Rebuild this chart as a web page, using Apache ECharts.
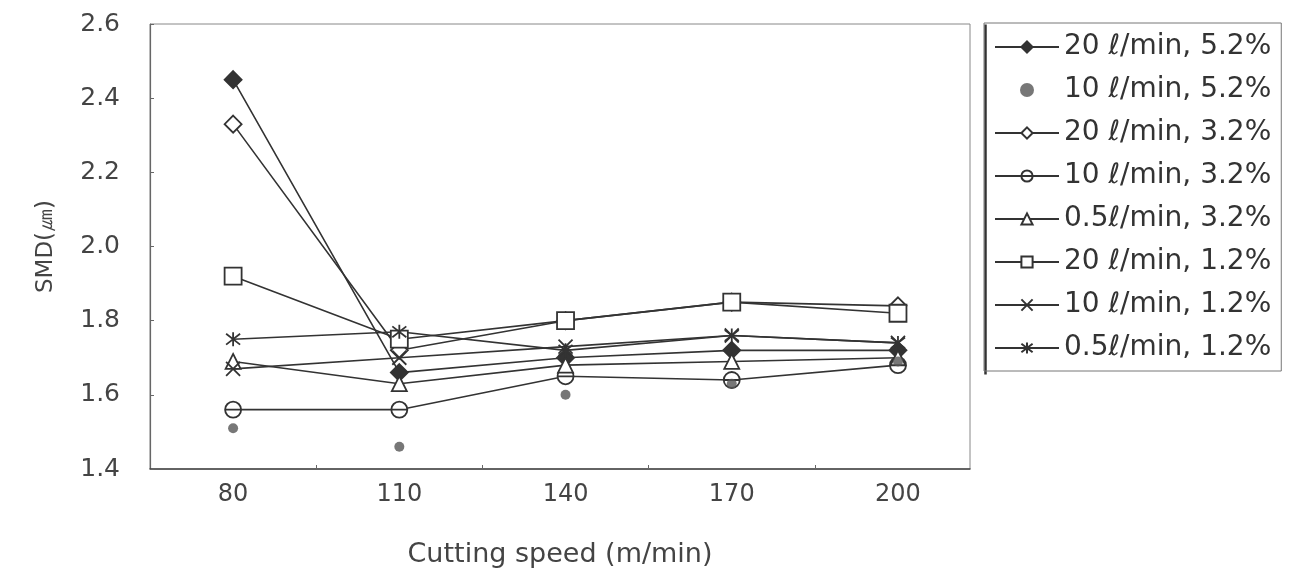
<!DOCTYPE html>
<html>
<head>
<meta charset="utf-8">
<script src="https://cdn.jsdelivr.net/npm/echarts@6/dist/echarts.min.js"></script>
<style>
  html, body { margin: 0; padding: 0; background: #fff; }
  #chart { width: 1303px; height: 584px; }
</style>
</head>
<body>
<div id="chart"></div>
<script>
// Cutting speed (m/min) on the x axis
const speeds = [80, 110, 140, 170, 200];
const speedLabels = ['80', '110', '140', '170', '200'];

// SMD (µm) per flow rate / concentration
const smd20_52 = [2.45, 1.66, 1.70, 1.72, 1.72];
const smd10_52 = [1.51, 1.46, 1.60, 1.63, 1.69];
const smd20_32 = [2.33, 1.72, 1.80, 1.85, 1.84];
const smd10_32 = [1.56, 1.56, 1.65, 1.64, 1.68];
const smd05_32 = [1.69, 1.63, 1.68, 1.69, 1.70];
const smd20_12 = [1.92, 1.75, 1.80, 1.85, 1.82];
const smd10_12 = [1.67, 1.70, 1.73, 1.76, 1.74];
const smd05_12 = [1.75, 1.77, 1.72, 1.76, 1.74];

const seriesNames = [
  '20 ℓ/min, 5.2%',
  '10 ℓ/min, 5.2%',
  '20 ℓ/min, 3.2%',
  '10 ℓ/min, 3.2%',
  '0.5ℓ/min, 3.2%',
  '20 ℓ/min, 1.2%',
  '10 ℓ/min, 1.2%',
  '0.5ℓ/min, 1.2%'
];

const yTicks = [1.4, 1.6, 1.8, 2.0, 2.2, 2.4, 2.6];

const ink = '#333';
const font = 'DejaVu Sans, Liberation Sans, sans-serif';

const pts = vals => speeds.map((s, i) => [s, vals[i]]);

// marker shapes
const symCircleBar = 'path://M0,5A5,5,0,1,1,10,5A5,5,0,1,1,0,5ZM0,5L10,5';
const symCross = 'path://M0,0L10,10M10,0L0,10';
const symAsterisk = 'path://M0,0L10,10M10,0L0,10M5,-1.5L5,11.5';

function lineSeries(name, vals, symbol, size, filled) {
  return {
    name, type: 'line', data: pts(vals),
    symbol, symbolSize: size, showSymbol: true,
    lineStyle: { color: ink, width: 1.6 },
    itemStyle: { color: filled ? ink : '#fff', borderColor: ink, borderWidth: 1.8 },
    emphasis: { disabled: true },
    z: 3
  };
}

const series = [
  lineSeries(seriesNames[0], smd20_52, 'diamond', 17, true),
  {
    name: seriesNames[1], type: 'scatter', data: pts(smd10_52),
    symbol: 'circle', symbolSize: 10,
    itemStyle: { color: '#555' },
    emphasis: { disabled: true }, z: 4
  },
  lineSeries(seriesNames[2], smd20_32, 'diamond', 17, false),
  lineSeries(seriesNames[3], smd10_32, symCircleBar, 16, false),
  lineSeries(seriesNames[4], smd05_32, 'triangle', 15, false),
  lineSeries(seriesNames[5], smd20_12, 'rect', 17, false),
  lineSeries(seriesNames[6], smd10_12, symCross, 14, false),
  lineSeries(seriesNames[7], smd05_12, symAsterisk, 14, false)
];

const chart = echarts.init(document.getElementById('chart'), null, { renderer: 'canvas' });
chart.setOption({
  animation: false,
  backgroundColor: '#fff',
  textStyle: { fontFamily: font },
  grid: {
    left: 150, right: 333, top: 24, bottom: 115,
    show: true, borderColor: '#888', borderWidth: 1
  },
  xAxis: {
    type: 'value', min: 65, max: 213,
    name: 'Cutting speed (m/min)', nameLocation: 'middle', nameGap: 72,
    nameTextStyle: { fontSize: 27, color: '#444', fontFamily: font },
    axisLine: { show: true, lineStyle: { color: '#444', width: 1.5 } },
    axisTick: { show: true, inside: true, length: 4, customValues: [95, 125, 155, 185], lineStyle: { color: '#666' } },
    splitLine: { show: false },
    axisLabel: {
      customValues: speeds, fontSize: 24, color: '#444', margin: 14, fontFamily: font,
      formatter: v => speedLabels[speeds.indexOf(v)] ?? ''
    }
  },
  yAxis: {
    type: 'value', min: 1.4, max: 2.6, interval: 0.2,
    name: 'SMD(㎛)', nameLocation: 'middle', nameGap: 92, nameRotate: 90,
    nameTextStyle: { fontSize: 23, color: '#444', fontFamily: font },
    axisLine: { show: true, lineStyle: { color: '#666', width: 1.2 } },
    axisTick: { show: true, inside: true, length: 4, lineStyle: { color: '#666' } },
    splitLine: { show: false },
    axisLabel: {
      fontSize: 25, color: '#444', margin: 30, fontFamily: font,
      formatter: v => yTicks.find(t => Math.abs(t - v) < 1e-6)?.toFixed(1) ?? ''
    }
  },
  legend: {
    orient: 'vertical', left: 984, top: 23,
    padding: [10, 10, 9, 10],
    itemWidth: 64, itemHeight: 14, itemGap: 15,
    borderColor: '#777', borderWidth: 1,
    textStyle: { fontSize: 28, color: '#333', fontFamily: font },
    data: seriesNames,
    selectedMode: false
  },
  graphic: [{
    type: 'line', left: 983, top: 22,
    shape: { x1: 0, y1: 0, x2: 0, y2: 350 },
    style: { stroke: '#333', lineWidth: 2.5 }
  }],
  series
});
</script>
</body>
</html>
